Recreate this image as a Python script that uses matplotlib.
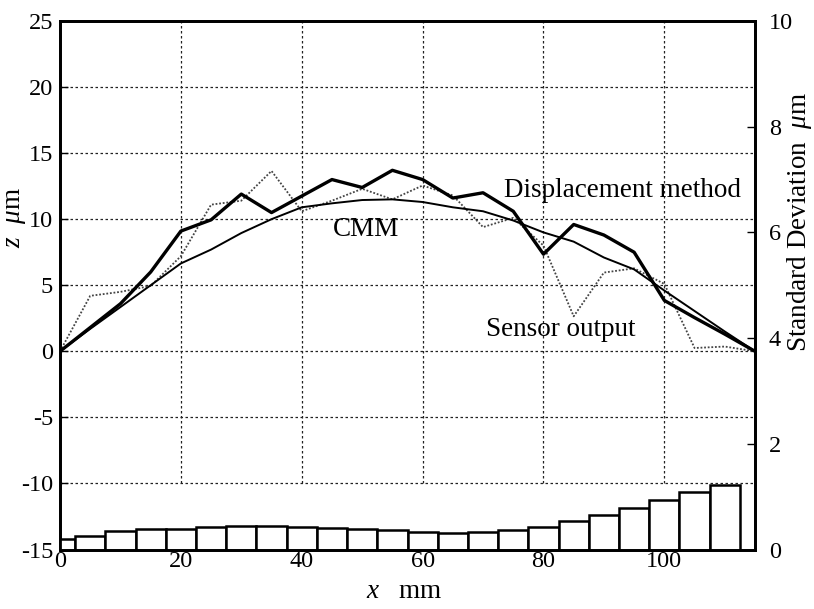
import matplotlib
matplotlib.use("Agg")
import matplotlib.pyplot as plt

plt.rcParams['font.family'] = ['Liberation Serif', 'DejaVu Serif']
plt.rcParams['mathtext.fontset'] = 'custom'
plt.rcParams['mathtext.it'] = 'Liberation Serif:italic'
plt.rcParams['mathtext.rm'] = 'Liberation Serif'

x_pos = [0, 5, 10, 15, 20, 25, 30, 35, 40, 45, 50, 55, 60, 65, 70, 75, 80, 85, 90, 95, 100, 105, 110, 115]
displacement = [0, 1.8, 3.6, 6.0, 9.1, 9.95, 11.9, 10.5, 11.75, 13.0, 12.4, 13.7, 13.0, 11.6, 12.0, 10.6,
                7.35, 9.6, 8.8, 7.5, 3.85, 2.55, 1.3, 0]
sensor = [0, 4.2, 4.5, 4.95, 7.2, 11.1, 11.4, 13.65, 10.6, 11.4, 12.3, 11.5, 12.55, 11.8, 9.4, 10.1,
          8.0, 2.65, 5.96, 6.28, 5.1, 0.25, 0.36, 0]
cmm = [0, 1.7, 3.35, 5.0, 6.65, 7.7, 8.95, 10.0, 10.9, 11.2, 11.45, 11.5, 11.3, 10.9, 10.6, 9.9,
       9.0, 8.3, 7.1, 6.2, 4.6, 3.05, 1.5, 0]

bar_pos = [0, 5, 10, 15, 20, 25, 30, 35, 40, 45, 50, 55, 60, 65, 70, 75, 80, 85, 90, 95, 100, 105, 110]
std_dev = [0.19, 0.26, 0.35, 0.39, 0.39, 0.43, 0.44, 0.44, 0.43, 0.41, 0.38, 0.36, 0.33, 0.32, 0.33,
           0.37, 0.43, 0.53, 0.65, 0.78, 0.94, 1.08, 1.22]

x_ticks = [0, 20, 40, 60, 80, 100]
z_ticks = [-15, -10, -5, 0, 5, 10, 15, 20, 25]
sd_ticks = [0, 2, 4, 6, 8, 10]

FS = 19.5
TFS = 17.5

fig = plt.figure(figsize=(8.14, 6.09), dpi=100)
ax = fig.add_axes([60/814, 1-549.5/609, 695/814, 528.5/609])
ax.set_xlim(0, 115)
ax.set_ylim(-15, 25)

# grid: verticals from -10 up, horizontals -10..20
for gx in x_ticks[1:]:
    ax.plot([gx, gx], [-10, 25], color='#222222', lw=0.9, ls=(0, (2, 2)), zorder=1)
for gy in z_ticks[1:-1]:
    ax.plot([0, 115], [gy, gy], color='#222222', lw=0.9, ls=(0, (2, 2)), zorder=1)

ax.plot(x_pos, sensor, color='#444444', lw=1.3, ls=(0, (1, 1)), zorder=3)
ax.plot(x_pos, cmm, color='black', lw=1.4, zorder=4)
ax.plot(x_pos, displacement, color='black', lw=2.4, zorder=5)

fig.text(622/814, 1-191/609, 'Displacement method', fontsize=FS, ha='center', va='center')
fig.text(561/814, 1-330/609, 'Sensor output', fontsize=FS, ha='center', va='center')
fig.text(366/814, 1-229/609, 'CMM', fontsize=FS, ha='center', va='center')

ax.set_xticks(x_ticks)
ax.set_yticks(z_ticks)
ax.set_xticklabels([str(v) for v in x_ticks])
ax.set_yticklabels([str(v) for v in z_ticks])
ax.tick_params(direction='in', length=6, width=1, labelsize=TFS, colors='black', pad=5)
ax.tick_params(axis='x', pad=1)

for s in ax.spines.values():
    s.set_linewidth(2)

ax2 = ax.twinx()
ax2.set_ylim(0, 10)
ax2.bar(bar_pos, std_dev, width=5, facecolor='white', edgecolor='black', linewidth=1.8, zorder=2)
ax2.set_xlim(0, 115)
ax2.set_yticks(sd_ticks)
ax2.set_yticklabels([str(v) for v in sd_ticks])
ax2.tick_params(direction='in', length=6, width=1, labelsize=TFS, pad=10)
for s in ax2.spines.values():
    s.set_linewidth(2)

fig.text(404/814, 1-592/609, r'$x$   mm', fontsize=FS, ha='center', va='center')
fig.text(15/814, 1-218/609, r'$z$  $\mu$m', fontsize=FS, rotation=90, ha='center', va='center')
fig.text(800/814, 1-222/609, r'Standard Deviation  $\mu$m', fontsize=FS, rotation=90, ha='center', va='center')

fig.savefig('out.png', dpi=100)
